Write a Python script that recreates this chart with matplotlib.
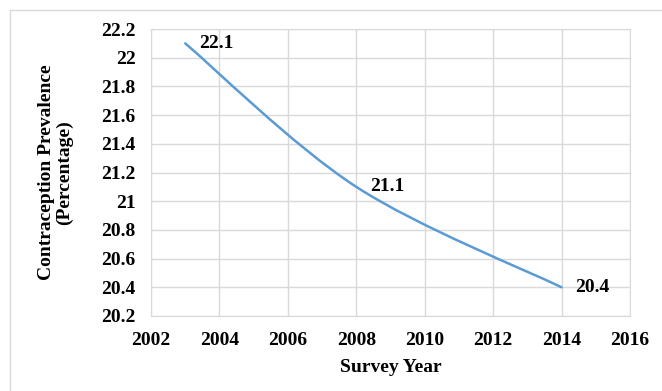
import numpy as np
import matplotlib
matplotlib.use("Agg")
import matplotlib.pyplot as plt
from matplotlib.patches import Rectangle
from matplotlib.path import Path
from matplotlib.patches import PathPatch

years = [2003, 2008, 2014]
prevalence = [22.1, 21.1, 20.4]
x_ticks = [2002, 2004, 2006, 2008, 2010, 2012, 2014, 2016]
y_ticks = [20.2, 20.4, 20.6, 20.8, 21.0, 21.2, 21.4, 21.6, 21.8, 22.0, 22.2]

plt.rcParams["font.family"] = ["Liberation Serif", "DejaVu Serif"]
plt.rcParams["font.weight"] = "bold"
FS = 14

W, H = 662, 391
fig = plt.figure(figsize=(W / 100, H / 100), dpi=100)
ax = fig.add_axes([151 / W, 1 - 316 / H, (630 - 151) / W, (316 - 29) / H])

# smoothed line through the points (cubic Bezier segments, spreadsheet style)
pts = np.column_stack([years, prevalence]).astype(float)
n = len(pts)
verts = [tuple(pts[0])]
codes = [Path.MOVETO]
for i in range(n - 1):
    p0 = pts[i - 1] if i > 0 else pts[i]
    p1 = pts[i]
    p2 = pts[i + 1]
    p3 = pts[i + 2] if i + 2 < n else pts[i + 1]
    c1 = p1 + (p2 - p0) / 6
    c2 = p2 - (p3 - p1) / 6
    verts += [tuple(c1), tuple(c2), tuple(p2)]
    codes += [Path.CURVE4] * 3
ax.add_patch(PathPatch(Path(verts, codes), facecolor="none",
                       edgecolor="#5b9bd5", lw=1.8, capstyle="round", zorder=3))

for x, y in zip(years, prevalence):
    ax.annotate(f"{y:g}", (x, y), xytext=(10, 0), textcoords="offset points",
                ha="left", va="center", fontsize=FS, fontweight="bold")

ax.set_xlim(2002, 2016)
ax.set_ylim(20.2, 22.2)
ax.set_xticks(x_ticks)
ax.set_yticks(y_ticks)
ax.set_yticklabels([f"{v:g}" for v in y_ticks])
ax.grid(True, color="#d9d9d9", lw=1)
ax.set_axisbelow(True)
for s in ax.spines.values():
    s.set_color("#d9d9d9")
ax.tick_params(length=0, labelsize=FS)
ax.tick_params(axis="x", pad=11.5)
ax.tick_params(axis="y", pad=11)
for lab in ax.get_xticklabels() + ax.get_yticklabels():
    lab.set_fontweight("bold")

ax.set_xlabel("Survey Year", fontsize=FS, fontweight="bold", labelpad=7)
ax.set_ylabel("Contraception Prevalence\n(Percentage)", fontsize=FS,
              fontweight="bold", labelpad=20, linespacing=1.05)

# chart frame
fig.patches.append(Rectangle((10 / W, -0.1), 1.2, 1 - 10 / H + 0.1,
                             transform=fig.transFigure, fill=False,
                             edgecolor="#d9d9d9", lw=1))

fig.savefig("out.png", dpi=100)
